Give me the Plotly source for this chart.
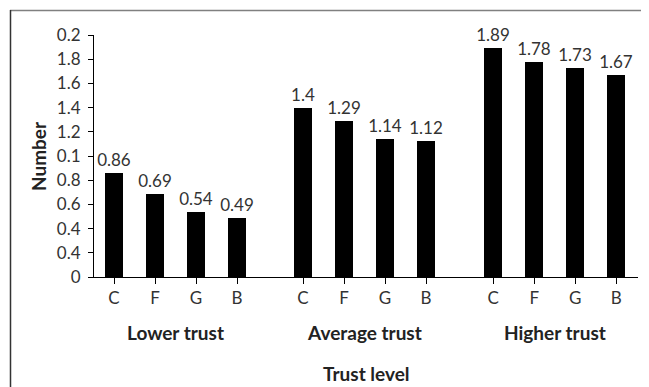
import plotly.graph_objects as go

groups = ["Lower trust", "Average trust", "Higher trust"]
categories = ["C", "F", "G", "B"]
values = [
    [0.86, 0.69, 0.54, 0.49],
    [1.4, 1.29, 1.14, 1.12],
    [1.89, 1.78, 1.73, 1.67],
]
value_labels = [
    ["0.86", "0.69", "0.54", "0.49"],
    ["1.4", "1.29", "1.14", "1.12"],
    ["1.89", "1.78", "1.73", "1.67"],
]
ytick_vals = [0, 0.2, 0.4, 0.6, 0.8, 1.0, 1.2, 1.4, 1.6, 1.8, 2.0]
ytick_text = ["0", "0.4", "0.4", "0.6", "0.8", "0.1", "1.2", "1.4", "1.6", "1.8", "0.2"]

FONT = "Lato"
group_offsets = [0, 4.61, 9.25]

xs, ys, texts, ticks_x, ticks_t = [], [], [], [], []
for gi, g in enumerate(groups):
    for ci, c in enumerate(categories):
        x = group_offsets[gi] + ci
        xs.append(x)
        ys.append(values[gi][ci])
        texts.append(value_labels[gi][ci])
        ticks_x.append(x)
        ticks_t.append(c)

fig = go.Figure()
fig.add_trace(go.Bar(
    x=xs, y=ys, width=0.44,
    marker=dict(color="black", line=dict(width=0)),
    text=texts, textposition="outside", cliponaxis=False,
    constraintext="none",
    textfont=dict(family=FONT, size=17, color="#333333"),
    hoverinfo="skip",
))

# page body has an 8px default margin; work in screenshot pixels
OFF = 8
W, H = 649 - OFF, 387 - OFF
PL, PR, PT, PB = 94, 638, 35, 277  # plot area in screenshot pixels
L, R, T, B = PL - OFF, 649 - PR, PT - OFF, 387 - PB
pw, ph = PR - PL, PB - PT

def px_x(p):
    return (p - PL) / pw

def px_y(p):
    return (PB - p) / ph

BOLD = 19
annotations = []
for gi, g in enumerate(groups):
    annotations.append(dict(
        x=group_offsets[gi] + 1.5, xref="x", y=px_y(332), yref="paper",
        text="<b>" + g + "</b>", showarrow=False,
        font=dict(family=FONT, size=BOLD, color="#222222"),
        xanchor="center", yanchor="middle",
    ))
annotations.append(dict(
    x=0.5, xref="paper", y=px_y(373), yref="paper",
    text="<b>Trust level</b>", showarrow=False,
    font=dict(family=FONT, size=BOLD, color="#222222"),
    xanchor="center", yanchor="middle",
))
annotations.append(dict(
    x=px_x(38), xref="paper", y=px_y(156), yref="paper",
    text="<b>Number</b>", showarrow=False, textangle=-90,
    font=dict(family=FONT, size=BOLD, color="#222222"),
    xanchor="center", yanchor="middle",
))

shapes = [
    dict(type="line", xref="paper", yref="paper",
         x0=px_x(10), x1=px_x(649), y0=px_y(10.5), y1=px_y(10.5),
         line=dict(color="#808080", width=1.5)),
    dict(type="line", xref="paper", yref="paper",
         x0=px_x(10.5), x1=px_x(10.5), y0=px_y(10), y1=px_y(387),
         line=dict(color="#333333", width=1.5)),
]

fig.update_layout(
    width=W, height=H,
    margin=dict(l=L, r=R, t=T, b=B),
    paper_bgcolor="white", plot_bgcolor="white",
    showlegend=False,
    bargap=0,
    annotations=annotations,
    shapes=shapes,
    xaxis=dict(
        range=[(PL - 114) / 41, (PR - 114) / 41],
        tickmode="array", tickvals=ticks_x, ticktext=ticks_t,
        ticks="outside", ticklen=6, tickcolor="black", tickwidth=1,
        showline=True, linecolor="black", linewidth=1,
        showgrid=False, zeroline=False,
        tickfont=dict(family=FONT, size=17, color="#333333"),
    ),
    yaxis=dict(
        range=[0, 2.0],
        tickmode="array", tickvals=ytick_vals, ticktext=ytick_text,
        ticks="outside", ticklen=5, tickcolor="black", tickwidth=1,
        ticklabelstandoff=4,
        showline=True, linecolor="black", linewidth=1,
        showgrid=False, zeroline=False,
        tickfont=dict(family=FONT, size=17, color="#333333"),
    ),
)

fig.write_html("out.html")
